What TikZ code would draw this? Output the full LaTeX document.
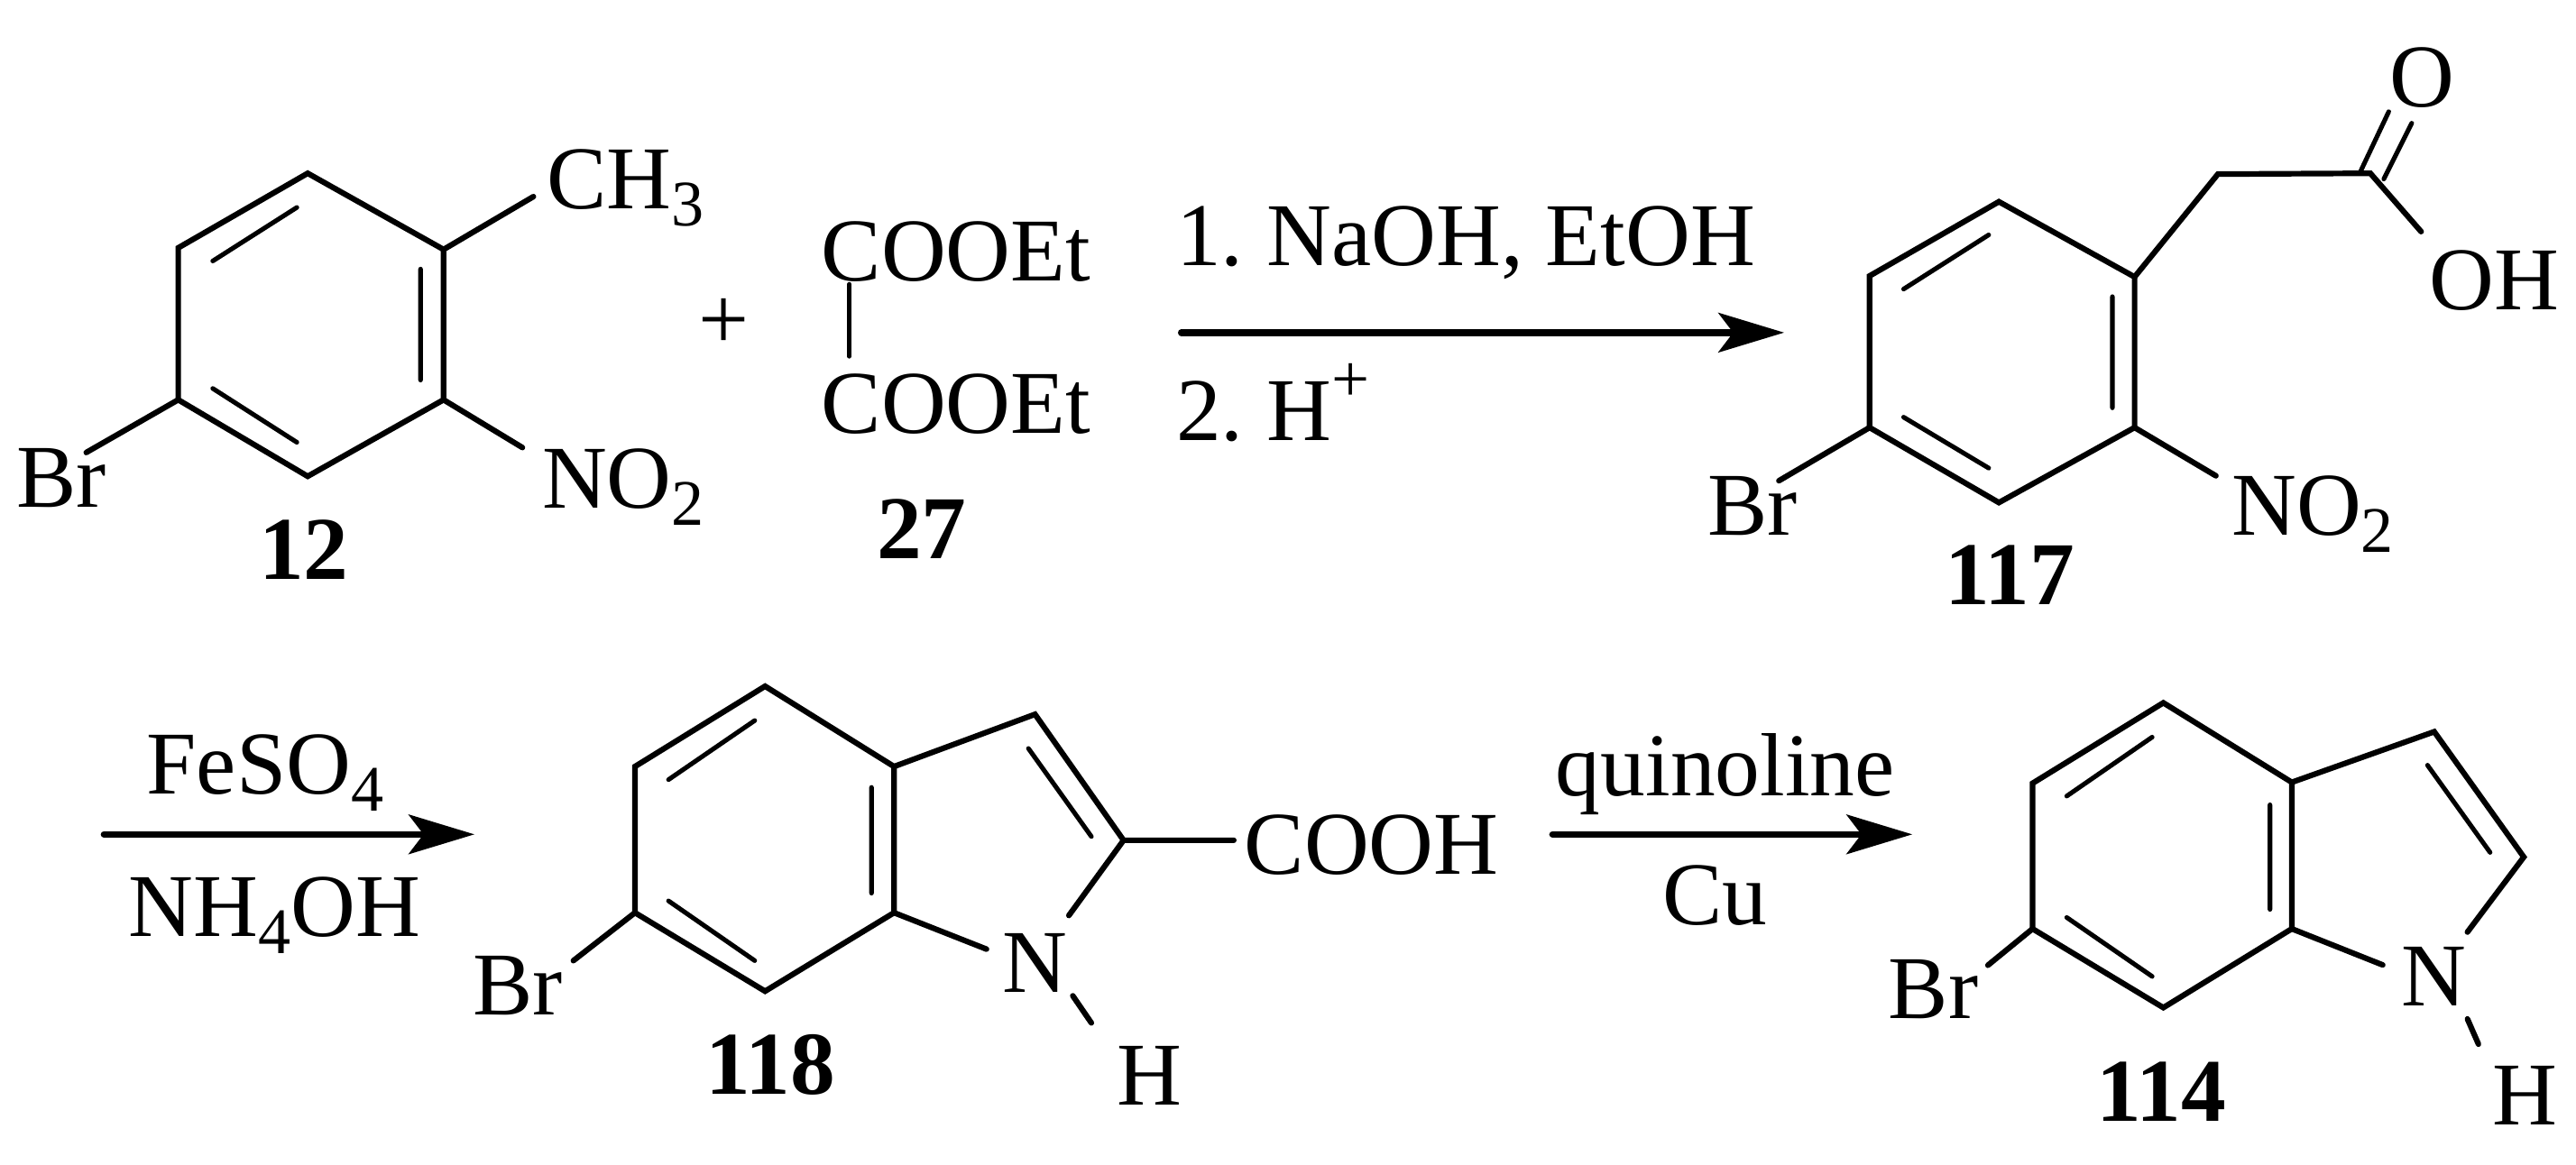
\documentclass[tikz,border=0pt]{standalone}
\usepackage{fontspec}
\setmainfont{Liberation Serif}
\usetikzlibrary{arrows.meta}
\newcommand{\lowsub}[1]{\raisebox{-0.19em}{\fontsize{19.8}{24}\selectfont #1}}
\newcommand{\highsup}[1]{\raisebox{0.43em}{\fontsize{20.5}{24}\selectfont #1}}
\tikzset{
  atom/.style={anchor=base west,inner sep=0pt,outer sep=0pt,font=\fontsize{27.3}{32}\selectfont},
  cmpd/.style={anchor=base,inner sep=0pt,outer sep=0pt,font=\fontsize{27.3}{32}\selectfont\bfseries},
  bond/.style={line width=1.7pt,line cap=round,line join=miter},
  inner bond/.style={line width=1.4pt,line cap=round},
  react/.style={line width=2pt,line cap=round,-{Stealth[length=20pt,width=12pt,inset=4.5pt]}}
}
\begin{document}
\begin{tikzpicture}[x=0.5pt,y=-0.5pt]
\useasboundingbox (0,0) rectangle (1568,709.3);
% ---------- 12
\coordinate (a1) at (187.3,105.5); \coordinate (a2) at (270,151.9); \coordinate (a3) at (270,243.4);
\coordinate (a4) at (187.3,290); \coordinate (a5) at (108.5,243.4); \coordinate (a6) at (108.5,150.9);
\coordinate (ai1) at (129.5,158.9); \coordinate (ai2) at (180.7,126.3);
\coordinate (ai3) at (256,163.8); \coordinate (ai4) at (256,231.4);
\coordinate (ai5) at (129.5,236.5); \coordinate (ai6) at (180.7,269.3);
\coordinate (aMe) at (324.7,119.7); \coordinate (aN) at (318,272.5); \coordinate (aBr) at (52.5,275.5);
\draw[bond] (a1)--(a2)--(a3)--(a4)--(a5)--(a6)--cycle;
\draw[inner bond] (ai1)--(ai2) (ai3)--(ai4) (ai5)--(ai6);
\draw[bond] (a2)--(aMe) (a3)--(aN) (a5)--(aBr);
\node[atom] (ch3a) at (333,127) {CH\lowsub{3}};
\node[atom] (no2a) at (330,309.5) {NO\lowsub{2}};
\node[atom] (bra) at (10,309) {Br};
\node[cmpd] (n12) at (185,353) {12};
% ---------- 27
\node[atom] (plus) at (425,213) {+};
\node[atom] (ester1) at (500,171) {COOEt};
\node[atom] (ester2) at (500,264) {COOEt};
\coordinate (e1) at (517,173); \coordinate (e2) at (517,217);
\draw[line width=1.3pt,line cap=round] (e1)--(e2);
\node[cmpd] (n27) at (561,340) {27};
% ---------- arrow 1
\coordinate (r1s) at (719,202.5); \coordinate (r1e) at (1086,202.5);
\draw[react] (r1s)--(r1e);
\node[atom] (cond1) at (716,161.6) {1.\hspace{0.26em}NaOH, EtOH};
\node[atom] (cond2) at (716,268) {2.\hspace{0.26em}H\highsup{+}};
% ---------- 117
\coordinate (b1) at (1216.7,122.8); \coordinate (b2) at (1299.3,168.6); \coordinate (b3) at (1299.3,260.3);
\coordinate (b4) at (1216.7,306); \coordinate (b5) at (1138,260.3); \coordinate (b6) at (1138,168);
\coordinate (bi1) at (1158.7,176); \coordinate (bi2) at (1210.5,143);
\coordinate (bi3) at (1285.8,180.6); \coordinate (bi4) at (1285.8,248.3);
\coordinate (bi5) at (1158.7,254); \coordinate (bi6) at (1210.5,285);
\coordinate (bc1) at (1350,106); \coordinate (bc2) at (1442.8,105.5);
\coordinate (bo1) at (1437,104); \coordinate (bo2) at (1454,68);
\coordinate (bo3) at (1451,109); \coordinate (bo4) at (1468,75);
\coordinate (boh) at (1473.7,141);
\coordinate (bBr) at (1082.8,292.7); \coordinate (bN) at (1348.8,289.7);
\draw[bond] (b1)--(b2)--(b3)--(b4)--(b5)--(b6)--cycle;
\draw[inner bond] (bi1)--(bi2) (bi3)--(bi4) (bi5)--(bi6);
\draw[bond] (b2)--(bc1)--(bc2)--(boh);
\draw[inner bond] (bo1)--(bo2) (bo3)--(bo4);
\draw[bond] (b5)--(bBr) (b3)--(bN);
\node[atom] (ob) at (1454.5,65) {O};
\node[atom] (ohb) at (1479,188.6) {OH};
\node[atom] (brb) at (1039.5,325.7) {Br};
\node[atom] (no2b) at (1358.4,326) {NO\lowsub{2}};
\node[cmpd] (n117) at (1223.5,368) {117};
% ---------- arrow 2
\coordinate (r2s) at (63.3,508); \coordinate (r2e) at (288.8,508);
\draw[react] (r2s)--(r2e);
\node[atom] (feso) at (89.3,483.6) {FeSO\lowsub{4}};
\node[atom] (nh4) at (78.5,570) {NH\lowsub{4}OH};
% ---------- 118
\coordinate (c1) at (465.7,417.8); \coordinate (c2) at (544.2,466.7); \coordinate (c3) at (544.2,555.7);
\coordinate (c4) at (465.7,603.5); \coordinate (c5) at (386.5,555.7); \coordinate (c6) at (386.5,466.7);
\coordinate (ci1) at (406.9,474.7); \coordinate (ci2) at (459.4,438.7);
\coordinate (ci3) at (530.5,479.4); \coordinate (ci4) at (530.5,543.8);
\coordinate (ci5) at (406.9,548.5); \coordinate (ci6) at (459.4,584.9);
\coordinate (cC3) at (630,434.9); \coordinate (cC2) at (683.9,511.6);
\coordinate (ci7) at (626,455.7); \coordinate (ci8) at (664.3,509.3);
\coordinate (cN1) at (650.6,557.4); \coordinate (cN2) at (600.5,577.9);
\coordinate (cH1) at (653,606.3); \coordinate (cH2) at (664.3,622.8);
\coordinate (cBr) at (349,584.9); \coordinate (cCO) at (751,511.6);
\draw[bond] (c1)--(c2)--(c3)--(c4)--(c5)--(c6)--cycle;
\draw[inner bond] (ci1)--(ci2) (ci3)--(ci4) (ci5)--(ci6) (ci7)--(ci8);
\draw[bond] (c2)--(cC3)--(cC2)--(cN1) (c3)--(cN2) (cH1)--(cH2) (c5)--(cBr) (cC2)--(cCO);
\node[atom] (nc) at (610.4,604.4) {N};
\node[atom] (hc) at (680,673) {H};
\node[atom] (brc) at (287.8,617.7) {Br};
\node[atom] (cooh) at (757.5,532.4) {COOH};
\node[cmpd] (n118) at (468.8,666.3) {118};
% ---------- arrow 3
\coordinate (r3s) at (945,508); \coordinate (r3e) at (1164,508);
\draw[react] (r3s)--(r3e);
\node[atom] (quin) at (947,484.5) {quinoline};
\node[atom] (cu) at (1012,563) {Cu};
% ---------- 114
\coordinate (d1) at (1316.8,427.9); \coordinate (d2) at (1395,476.3); \coordinate (d3) at (1395,565.5);
\coordinate (d4) at (1316.8,613.5); \coordinate (d5) at (1237.2,565.5); \coordinate (d6) at (1237.2,476.9);
\coordinate (di1) at (1258,484.7); \coordinate (di2) at (1310,448.8);
\coordinate (di3) at (1381.7,490); \coordinate (di4) at (1381.7,553.7);
\coordinate (di5) at (1258,558.6); \coordinate (di6) at (1310,594.5);
\coordinate (dC3) at (1481.7,445.5); \coordinate (dC2) at (1536.2,521.8);
\coordinate (di7) at (1477.6,465.9); \coordinate (di8) at (1515.7,519);
\coordinate (dN1) at (1501.9,567.5); \coordinate (dN2) at (1450.3,587.5);
\coordinate (dH1) at (1501.9,620.4); \coordinate (dH2) at (1508.6,635.7);
\coordinate (dBr) at (1210,587.7);
\draw[bond] (d1)--(d2)--(d3)--(d4)--(d5)--(d6)--cycle;
\draw[inner bond] (di1)--(di2) (di3)--(di4) (di5)--(di6) (di7)--(di8);
\draw[bond] (d2)--(dC3)--(dC2)--(dN1) (d3)--(dN2) (dH1)--(dH2) (d5)--(dBr);
\node[atom] (nd) at (1462,612.5) {N};
\node[atom] (hd) at (1517,685) {H};
\node[atom] (brd) at (1149.5,620) {Br};
\node[cmpd] (n114) at (1315.5,682.8) {114};
\end{tikzpicture}
\end{document}
